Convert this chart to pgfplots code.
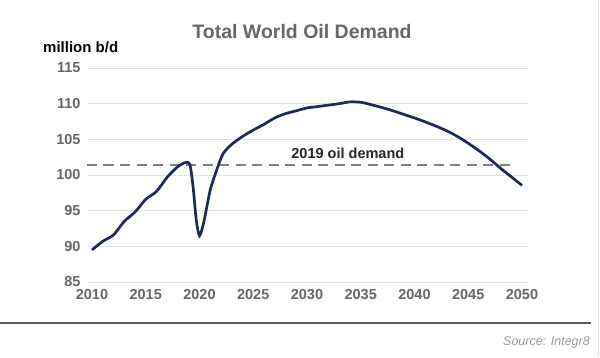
\documentclass[border=0pt]{standalone}
\usepackage{pgfplots}
\pgfplotsset{compat=1.18}
\usepackage{fontspec}
\setmainfont{Liberation Sans}
\definecolor{navy}{HTML}{1B2A57}
\definecolor{tickgray}{HTML}{666666}
\definecolor{gridgray}{HTML}{E2E2E2}
\definecolor{dashgray}{HTML}{808080}
\definecolor{sepgray}{HTML}{5A5A5A}
\definecolor{bordergray}{HTML}{E0E0E0}
\definecolor{srcgray}{HTML}{9A9A9A}
\begin{document}
\begin{tikzpicture}[x=1pt,y=1pt]
\path[use as bounding box, fill=white] (0,0) rectangle (600,-357);
\draw[color=sepgray, line width=1.5pt] (0,-323) -- (591,-323);
\draw[color=bordergray, line width=1pt] (598,0) -- (598,-357);
\node[anchor=center, font=\fontsize{19.5}{22}\selectfont\bfseries, text=tickgray] at (302,-32) {Total World Oil Demand};
\node[anchor=west, inner sep=0pt, font=\fontsize{15}{17}\selectfont\bfseries, text=black] at (43,-47) {million b/d};
\node[anchor=east, inner sep=0pt, font=\fontsize{12.5}{14}\selectfont\itshape, text=srcgray] at (590,-342) {Source: Integr8};
\begin{axis}[
  at={(87pt,-282pt)}, anchor=south west,
  scale only axis, width=441pt, height=214pt,
  xmin=2009.535, xmax=2050.56, ymin=85, ymax=115,
  xtick={2010,2015,...,2050}, ytick={85,90,...,115},
  axis line style={draw=none}, tick style={draw=none},
  ymajorgrids, grid style={color=gridgray, line width=1pt},
  xticklabel style={font=\fontsize{14.5}{16}\selectfont\bfseries, text=tickgray, yshift=-4pt},
  yticklabel style={font=\fontsize{14.5}{16}\selectfont\bfseries, text=tickgray, xshift=-3pt},
  /pgf/number format/assume math mode=true,
  /pgf/number format/1000 sep={},
  clip=false,
]
\addplot[color=dashgray, line width=2pt, dash pattern=on 10pt off 6.5pt] coordinates {(2009.535,101.45) (2049.35,101.45)};
\addplot[color=navy, line width=2.7pt, smooth, tension=0.45] coordinates {
(2010,89.5) (2011,90.7) (2012,91.6) (2013,93.5) (2014,94.8) (2015,96.6) (2016,97.7)
(2017,99.7) (2018,101.2) (2018.7,101.75) (2019.1,101.5) (2019.4,98.4) (2019.7,93.7)
(2020,91.5) (2020.4,93.4) (2021,97.9) (2021.6,100.7) (2022.2,103.0) (2023,104.3)
(2024,105.4) (2025,106.3) (2026,107.1) (2027,108.0) (2028,108.6) (2029,109.0)
(2030,109.4) (2031,109.6) (2032,109.8) (2033,110.0) (2034,110.25) (2035,110.2)
(2036,109.85) (2037,109.45) (2038,109.0) (2039,108.5) (2040,108.0) (2041,107.45)
(2042,106.85) (2043,106.2) (2044,105.4) (2045,104.45) (2046,103.4) (2047,102.25)
(2048,100.95) (2049,99.75) (2050,98.55)};
\node[font=\fontsize{14.5}{16}\selectfont\bfseries, text=black!85] at (axis cs:2033.8,103.1) {2019 oil demand};
\end{axis}
\end{tikzpicture}
\end{document}
